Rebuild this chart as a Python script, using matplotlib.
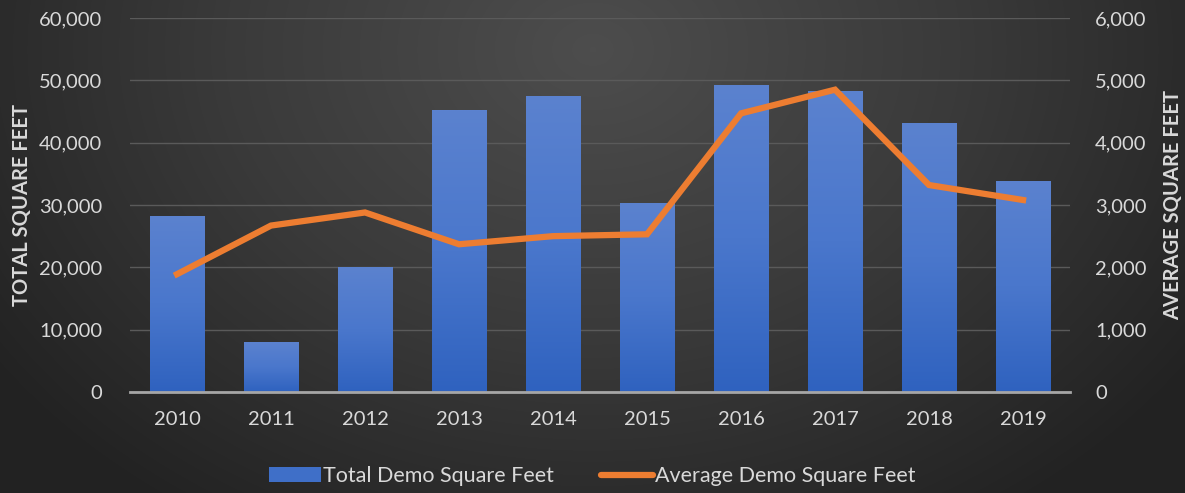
import numpy as np
import matplotlib
matplotlib.use("Agg")
import matplotlib.pyplot as plt
from matplotlib.ticker import FuncFormatter, MultipleLocator
from matplotlib.colors import LinearSegmentedColormap
from matplotlib.lines import Line2D
from matplotlib.patches import Patch

years = ["2010", "2011", "2012", "2013", "2014", "2015", "2016", "2017", "2018", "2019"]
total_sqft = [28300, 8000, 20000, 45200, 47500, 30300, 49300, 48300, 43200, 33900]
avg_sqft = [1890, 2670, 2880, 2370, 2500, 2530, 4470, 4850, 3320, 3080]

plt.rcParams['font.family'] = ['Lato', 'DejaVu Sans']
txt = '#d9d9d9'

W, H = 1185, 493
fig = plt.figure(figsize=(W / 100, H / 100), dpi=100)

# background radial gradient
bg = fig.add_axes([0, 0, 1, 1])
yy, xx = np.mgrid[0:H, 0:W]
cx, cy = W * 0.5, H * 0.1
d = np.sqrt(((xx - cx) / (W * 0.62)) ** 2 + ((yy - cy) / (H * 1.15)) ** 2)
d = np.clip(d, 0, 1)
bg_cmap = LinearSegmentedColormap.from_list('bg', ['#4d4d4d', '#3a3a3a', '#222222'])
bg.imshow(d, cmap=bg_cmap, aspect='auto', extent=[0, 1, 0, 1], origin='upper')
bg.set_axis_off()

ax = fig.add_axes([0.1097, 0.2049, 0.7933, 0.7586])
ax.patch.set_alpha(0)
x = np.arange(len(years))
bars = ax.bar(x, total_sqft, width=0.58, color='#4472C4', zorder=2)

bar_cmap = LinearSegmentedColormap.from_list('bar', ['#2f62bf', '#4a77cc', '#5b82cf'])
for b in bars:
    x0, y0 = b.get_x(), b.get_y()
    w, h = b.get_width(), b.get_height()
    grad = np.linspace(0, 1, 256).reshape(-1, 1)
    im = ax.imshow(grad, cmap=bar_cmap, aspect='auto', origin='lower',
                   extent=[x0, x0 + w, y0, y0 + h], zorder=2.1)
    im.set_clip_path(b)

ax.set_xlim(-0.5, len(years) - 0.5)
ax.set_ylim(0, 60000)
ax.yaxis.set_major_locator(MultipleLocator(10000))
ax.yaxis.set_major_formatter(FuncFormatter(lambda v, p: f"{int(v):,}"))
ax.set_xticks(x)
ax.set_xticklabels(years)
ax.grid(axis='y', color='#5a5a5a', linewidth=1, zorder=0)
ax.set_axisbelow(True)
for s in ['top', 'right', 'left']:
    ax.spines[s].set_visible(False)
ax.spines['bottom'].set_color('#a6a6a6')
ax.spines['bottom'].set_linewidth(2)
ax.spines['bottom'].set_zorder(3)
ax.tick_params(axis='both', length=0, colors=txt, labelsize=14.5)
ax.tick_params(axis='x', pad=14)
ax.tick_params(axis='y', pad=20)
ax.set_ylabel("TOTAL SQUARE FEET", color=txt, fontsize=14.5, fontweight='bold', labelpad=5)

ax2 = ax.twinx()
ax2.plot(x, avg_sqft, color='#ED7D31', linewidth=4.5, solid_joinstyle='miter', zorder=4)
ax2.set_ylim(0, 6000)
ax2.yaxis.set_major_locator(MultipleLocator(1000))
ax2.yaxis.set_major_formatter(FuncFormatter(lambda v, p: f"{int(v):,}"))
for s in ax2.spines.values():
    s.set_visible(False)
ax2.tick_params(axis='y', length=0, colors=txt, labelsize=14.5, pad=18)
ax2.set_ylabel("AVERAGE SQUARE FEET", color=txt, fontsize=14.5, fontweight='bold', labelpad=12)

handles = [Patch(facecolor='#3f6fc8', edgecolor='none'),
           Line2D([0], [0], color='#ED7D31', linewidth=4.5, solid_capstyle='round')]
labels = ["Total Demo Square Feet", "Average Demo Square Feet"]
fig.legend(handles, labels, loc='center', bbox_to_anchor=(0.5, 0.034), ncol=2,
           frameon=False, fontsize=15.5, labelcolor=txt, handlelength=2.4,
           handleheight=0.65, handletextpad=0.1, columnspacing=2.2)

fig.savefig("out.png", dpi=100)
